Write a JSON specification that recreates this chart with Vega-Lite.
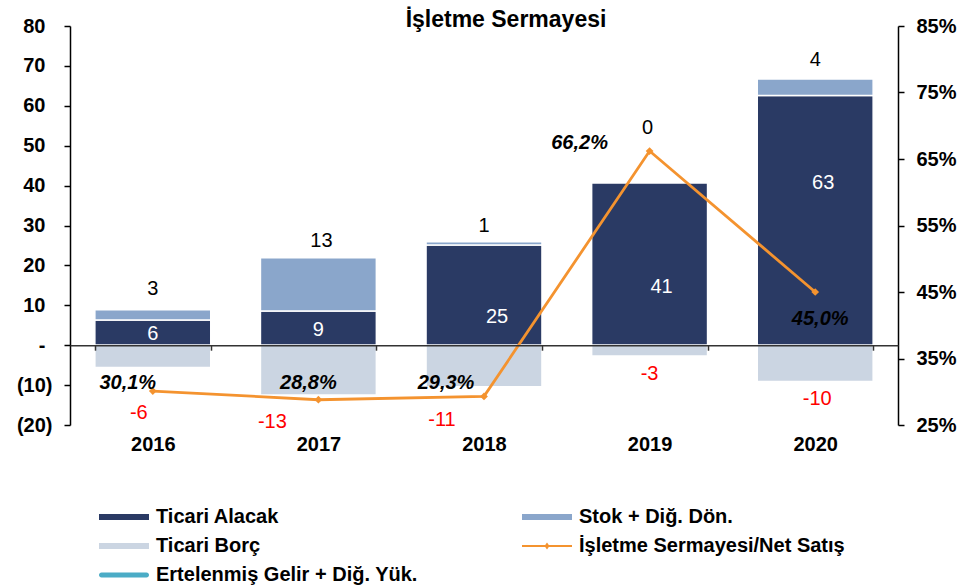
{
  "$schema": "https://vega.github.io/schema/vega-lite/v6.json",
  "width": 828,
  "height": 399,
  "autosize": {"type": "none"},
  "padding": {"left": 70, "top": 26, "right": 66, "bottom": 160},
  "background": "white",
  "config": {
    "view": {"stroke": null},
    "font": "Liberation Sans",
    "text": {"font": "Liberation Sans"},
    "axis": {"labelFont": "Liberation Sans", "labelColor": "black", "grid": false, "labelOverlap": false}
  },
  "title": {
    "text": "İşletme Sermayesi",
    "fontSize": 23,
    "fontWeight": "bold",
    "font": "Liberation Sans",
    "color": "black",
    "anchor": "middle",
    "dx": 22,
    "dy": 16,
    "offset": 0
  },
  "datasets": {
    "bars": [
      {"year": "2016", "series": "Ticari Alacak", "value": 6.3, "label": "6", "ord": 1},
      {"year": "2016", "series": "Stok + Diğ. Dön.", "value": 2.6, "label": "3", "ord": 2},
      {"year": "2016", "series": "Ticari Borç", "value": -5.6, "label": "-6", "ord": 3},
      {"year": "2017", "series": "Ticari Alacak", "value": 8.6, "label": "9", "ord": 1},
      {"year": "2017", "series": "Stok + Diğ. Dön.", "value": 13.3, "label": "13", "ord": 2},
      {"year": "2017", "series": "Ticari Borç", "value": -12.5, "label": "-13", "ord": 3},
      {"year": "2018", "series": "Ticari Alacak", "value": 25.1, "label": "25", "ord": 1},
      {"year": "2018", "series": "Stok + Diğ. Dön.", "value": 0.8, "label": "1", "ord": 2},
      {"year": "2018", "series": "Ticari Borç", "value": -10.4, "label": "-11", "ord": 3},
      {"year": "2019", "series": "Ticari Alacak", "value": 40.7, "label": "41", "ord": 1},
      {"year": "2019", "series": "Stok + Diğ. Dön.", "value": 0.0, "label": "0", "ord": 2},
      {"year": "2019", "series": "Ticari Borç", "value": -2.7, "label": "-3", "ord": 3},
      {"year": "2020", "series": "Ticari Alacak", "value": 62.6, "label": "63", "ord": 1},
      {"year": "2020", "series": "Stok + Diğ. Dön.", "value": 4.1, "label": "4", "ord": 2},
      {"year": "2020", "series": "Ticari Borç", "value": -9.1, "label": "-10", "ord": 3}
    ],
    "pct": [
      {"year": "2016", "pct": 30.1, "label": "30,1%"},
      {"year": "2017", "pct": 28.8, "label": "28,8%"},
      {"year": "2018", "pct": 29.3, "label": "29,3%"},
      {"year": "2019", "pct": 66.2, "label": "66,2%"},
      {"year": "2020", "pct": 45.0, "label": "45,0%"}
    ]
  },
  "encoding": {
    "x": {
      "field": "year",
      "type": "ordinal",
      "scale": {"paddingInner": 0.3, "paddingOuter": 0.15},
      "axis": {
        "title": null,
        "orient": "bottom",
        "offset": -79.8,
        "labelAngle": 0,
        "tickBand": "extent",
        "tickSize": 5,
        "labelPadding": 84,
        "labelFontSize": 20,
        "labelFontWeight": "bold",
        "labelColor": "black",
        "domainColor": "#333333",
        "domainWidth": 1.5,
        "tickColor": "#333333",
        "tickWidth": 1.5,
        "zindex": 1,
        "grid": false
      }
    }
  },
  "layer": [
    {
      "data": {"name": "bars"},
      "encoding": {
        "y": {
          "field": "value",
          "type": "quantitative",
          "stack": "zero",
          "scale": {"domain": [-20, 80], "nice": false, "zero": false},
          "axis": {
            "orient": "left",
            "values": [-20, -10, 0, 10, 20, 30, 40, 50, 60, 70, 80],
            "tickCount": 11,
            "labelExpr": "datum.value == 0 ? '-' : (datum.value < 0 ? '(' + abs(datum.value) + ')' : '' + datum.value)",
            "labelOverlap": false,
            "labelSeparation": 0,
            "title": null,
            "grid": false,
            "domainColor": "black",
            "domainWidth": 1.5,
            "tickColor": "black",
            "tickWidth": 1.5,
            "tickSize": 6,
            "labelPadding": {"condition": {"test": "datum.value < 0", "value": 12}, "value": 19},
            "labelFontSize": 20,
            "labelFontWeight": "bold",
            "labelColor": "black"
          }
        },
        "order": {"field": "ord", "type": "quantitative"}
      },
      "layer": [
        {
          "mark": {"type": "bar", "stroke": "white", "strokeWidth": 1.5},
          "encoding": {
            "color": {
              "field": "series",
              "type": "nominal",
              "scale": {
                "domain": ["Ticari Alacak", "Stok + Diğ. Dön.", "Ticari Borç", "İşletme Sermayesi/Net Satış", "Ertelenmiş Gelir + Diğ. Yük."],
                "range": ["#2A3A64", "#8AA6CB", "#CBD5E2", "#F4932F", "#4BACC6"]
              },
              "legend": {
                "orient": "none",
                "legendX": 29,
                "legendY": 481,
                "columns": 2,
                "direction": "horizontal",
                "title": null,
                "symbolType": {"expr": "datum.value == 'İşletme Sermayesi/Net Satış' ? 'M-1,-0.1H4V0.1H-1Z M1.5,-0.35L1.75,0L1.5,0.35L1.25,0Z' : (datum.value == 'Ertelenmiş Gelir + Diğ. Yük.' ? 'M-0.75,-0.25H3.75A0.25,0.25,0,0,1,3.75,0.25H-0.75A0.25,0.25,0,0,1,-0.75,-0.25Z' : 'M-1,-0.3H4V0.3H-1Z')"},
                "symbolSize": 400,
                "symbolStrokeWidth": 0,
                "symbolOpacity": 1,
                "labelFontSize": 20,
                "labelFontWeight": "bold",
                "labelColor": "black",
                "labelFont": "Liberation Sans",
                "labelOffset": 37,
                "labelLimit": 500,
                "columnPadding": 104,
                "rowPadding": 9,
                "padding": 0
              }
            }
          }
        },
        {
          "transform": [{"filter": "datum.series == 'Ticari Alacak'"}],
          "encoding": {"text": {"field": "label"}},
          "layer": [
            {"transform": [{"filter": "datum.year == '2016'"}], "mark": {"type": "text", "color": "white", "fontSize": 20, "dy": 14}},
            {"transform": [{"filter": "datum.year == '2017'"}], "mark": {"type": "text", "color": "white", "fontSize": 20, "dy": 19}},
            {"transform": [{"filter": "datum.year == '2018'"}], "mark": {"type": "text", "color": "white", "fontSize": 20, "dy": 72, "dx": 13}},
            {"transform": [{"filter": "datum.year == '2019'"}], "mark": {"type": "text", "color": "white", "fontSize": 20, "dy": 104, "dx": 12}},
            {"transform": [{"filter": "datum.year == '2020'"}], "mark": {"type": "text", "color": "white", "fontSize": 20, "dy": 88, "dx": 8}}
          ]
        },
        {
          "transform": [{"filter": "datum.series != 'Ticari Borç'"}],
          "encoding": {
            "detail": {"field": "series"},
            "text": {"condition": {"test": "datum.series == 'Stok + Diğ. Dön.'", "field": "label"}, "value": ""}
          },
          "layer": [
            {"transform": [{"filter": "datum.year == '2016'"}], "mark": {"type": "text", "color": "black", "fontSize": 20, "dy": -21}},
            {"transform": [{"filter": "datum.year == '2017'"}], "mark": {"type": "text", "color": "black", "fontSize": 20, "dy": -17, "dx": 3}},
            {"transform": [{"filter": "datum.year == '2018'"}], "mark": {"type": "text", "color": "black", "fontSize": 20, "dy": -16}},
            {"transform": [{"filter": "datum.year == '2019'"}], "mark": {"type": "text", "color": "black", "fontSize": 20, "dy": -55, "dx": -2}},
            {"transform": [{"filter": "datum.year == '2020'"}], "mark": {"type": "text", "color": "black", "fontSize": 20, "dy": -19}}
          ]
        },
        {
          "transform": [{"filter": "datum.series == 'Ticari Borç'"}],
          "encoding": {"text": {"field": "label"}},
          "layer": [
            {"transform": [{"filter": "datum.year == '2016'"}], "mark": {"type": "text", "color": "#FF0000", "fontSize": 20, "dy": 45, "dx": -14}},
            {"transform": [{"filter": "datum.year == '2017'"}], "mark": {"type": "text", "color": "#FF0000", "fontSize": 20, "dy": 27, "dx": -46}},
            {"transform": [{"filter": "datum.year == '2018'"}], "mark": {"type": "text", "color": "#FF0000", "fontSize": 20, "dy": 33, "dx": -42}},
            {"transform": [{"filter": "datum.year == '2019'"}], "mark": {"type": "text", "color": "#FF0000", "fontSize": 20, "dy": 18}},
            {"transform": [{"filter": "datum.year == '2020'"}], "mark": {"type": "text", "color": "#FF0000", "fontSize": 20, "dy": 17, "dx": 2}}
          ]
        }
      ]
    },
    {
      "data": {"name": "pct"},
      "encoding": {
        "y": {
          "field": "pct",
          "type": "quantitative",
          "scale": {"domain": [25, 85], "nice": false, "zero": false},
          "axis": {
            "orient": "right",
            "values": [25, 35, 45, 55, 65, 75, 85],
            "labelExpr": "datum.value + '%'",
            "labelOverlap": false,
            "title": null,
            "grid": false,
            "domainColor": "black",
            "domainWidth": 1.5,
            "tickColor": "black",
            "tickWidth": 1.5,
            "tickSize": 6,
            "labelPadding": 12,
            "labelFontSize": 20,
            "labelFontWeight": "bold",
            "labelColor": "black"
          }
        }
      },
      "layer": [
        {
          "mark": {
            "type": "line",
            "color": "#F4932F",
            "strokeWidth": 2.8,
            "point": {"shape": "diamond", "size": 60, "filled": true, "color": "#F4932F"}
          }
        },
        {
          "encoding": {"text": {"field": "label"}},
          "layer": [
            {"transform": [{"filter": "datum.year == '2016'"}], "mark": {"type": "text", "color": "black", "fontSize": 20, "fontWeight": "bold", "fontStyle": "italic", "dx": -25, "dy": -8}},
            {"transform": [{"filter": "datum.year == '2017'"}], "mark": {"type": "text", "color": "black", "fontSize": 20, "fontWeight": "bold", "fontStyle": "italic", "dx": -10, "dy": -17}},
            {"transform": [{"filter": "datum.year == '2018'"}], "mark": {"type": "text", "color": "black", "fontSize": 20, "fontWeight": "bold", "fontStyle": "italic", "dx": -38, "dy": -13}},
            {"transform": [{"filter": "datum.year == '2019'"}], "mark": {"type": "text", "color": "black", "fontSize": 20, "fontWeight": "bold", "fontStyle": "italic", "dx": -70, "dy": -8}},
            {"transform": [{"filter": "datum.year == '2020'"}], "mark": {"type": "text", "color": "black", "fontSize": 20, "fontWeight": "bold", "fontStyle": "italic", "dx": 5, "dy": 27}}
          ]
        }
      ]
    }
  ],
  "resolve": {"scale": {"y": "independent"}, "axis": {"y": "independent"}}
}
